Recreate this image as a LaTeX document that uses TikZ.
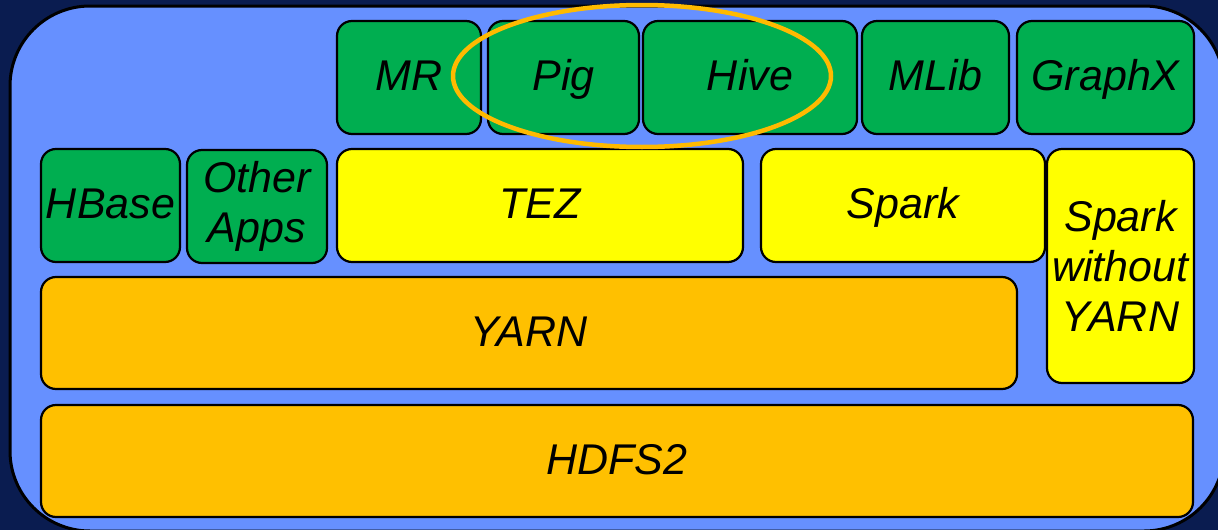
\documentclass[tikz,border=0pt]{standalone}
\usepackage{fontspec}
\setmainfont{Liberation Sans}
\usetikzlibrary{shapes.geometric}
\definecolor{navy}{HTML}{0A1C50}
\definecolor{panel}{HTML}{6690FF}
\definecolor{appgreen}{HTML}{00AE50}
\definecolor{engyellow}{HTML}{FFFF00}
\definecolor{layorange}{HTML}{FFC000}
\definecolor{ringorange}{HTML}{FFBA00}
\begin{document}
\begin{tikzpicture}[x=1pt,y=-1pt,
  box/.style={draw=black, line width=2.2pt, rounded corners=15pt, inner sep=0pt,
    align=center, font=\fontsize{43}{50}\selectfont\itshape},
  one/.style={text height=33pt, text depth=7pt},
  app/.style={box, fill=appgreen},
  eng/.style={box, fill=engyellow},
  lay/.style={box, fill=layorange},
  ring/.style={draw=ringorange, line width=4.5pt, ellipse, inner sep=0pt}]
\useasboundingbox (0,0) rectangle (1218,530);
\clip (0,0) rectangle (1218,530);
\fill[navy] (0,0) rectangle (1218,530);
\draw[fill=panel, line width=3pt, rounded corners=80pt] (10,6) rectangle (1224,531);
% top row
\node[app, one, minimum width=144pt, minimum height=113pt] (mr) at (409,77.5) {MR};
\node[app, one, minimum width=151pt, minimum height=113pt] (pig) at (563.5,77.5) {Pig};
\node[app, one, minimum width=214pt, minimum height=113pt] (hive) at (750,77.5) {Hive};
\node[app, one, minimum width=147pt, minimum height=113pt] (mlib) at (935.5,77.5) {MLib};
\node[app, one, minimum width=177pt, minimum height=113pt] (graphx) at (1105.5,77.5) {GraphX};
% second row
\node[app, one, minimum width=139pt, minimum height=113pt] (hbase) at (110.5,205.5) {HBase};
\node[app, minimum width=140pt, minimum height=113pt] (other) at (257,206.5) {Other\\Apps};
\node[eng, one, minimum width=406pt, minimum height=113pt] (tez) at (540,205.5) {TEZ};
\node[eng, one, minimum width=284pt, minimum height=113pt] (spark) at (903,205.5) {Spark};
\node[eng, minimum width=147pt, minimum height=234pt] (sparknoyarn) at (1120.5,266) {Spark\\without\\YARN};
% layers
\node[lay, one, minimum width=976pt, minimum height=112pt] (yarn) at (529,333) {YARN};
\node[lay, one, minimum width=1152pt, minimum height=112pt] (hdfs) at (617,461) {HDFS2};
% highlight ring
\node[ring, minimum width=378pt, minimum height=142pt] (highlight) at (642,76) {};
\end{tikzpicture}
\end{document}
